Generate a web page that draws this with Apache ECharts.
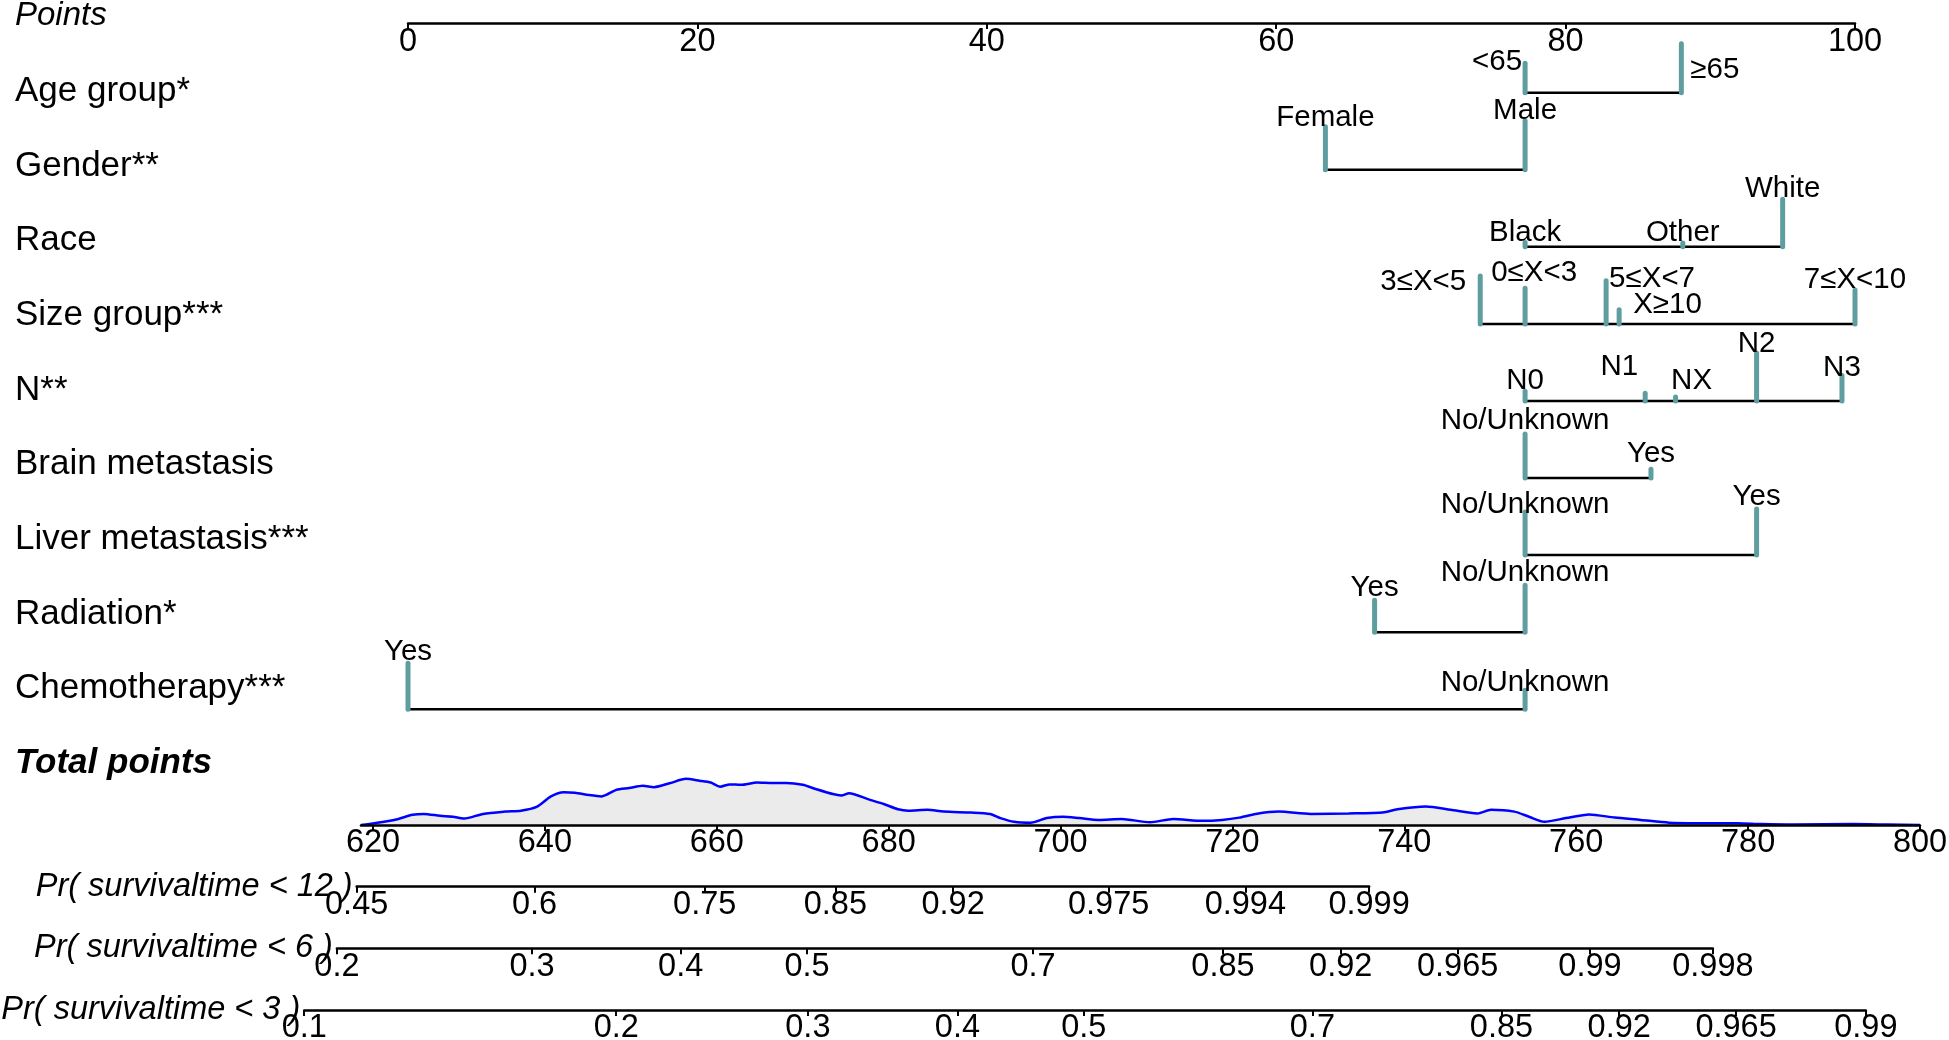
<!DOCTYPE html>
<html>
<head>
<meta charset="utf-8">
<script src="https://cdn.jsdelivr.net/npm/echarts@6/dist/echarts.min.js"></script>
<style>
html,body{margin:0;padding:0;background:#ffffff;}
#chart{width:1949px;height:1040px;}
</style>
</head>
<body>
<div id="chart"></div>
<script>
// ---------------- DATA ----------------
const rowNames = ['Age group*', 'Gender**', 'Race', 'Size group***', 'N**',
  'Brain metastasis', 'Liver metastasis***', 'Radiation*', 'Chemotherapy***'];

const pointsTicks = [0, 20, 40, 60, 80, 100];

const ageLevels = ['<65', '≥65'];
const agePoints = [77.2, 88.0];
const ageWeight = [0.60, 1.00];

const genderLevels = ['Female', 'Male'];
const genderPoints = [63.4, 77.2];
const genderWeight = [0.88, 1.00];

const raceLevels = ['Black', 'Other', 'White'];
const racePoints = [77.2, 88.1, 95.0];
const raceWeight = [0.09, 0.08, 0.97];

const sizeLevels = ['0≤X<3', '3≤X<5', '5≤X<7', '7≤X<10', 'X≥10'];
const sizePoints = [77.2, 74.1, 82.8, 100, 83.7];
const sizeWeight = [0.73, 0.98, 0.88, 0.69, 0.29];

const nLevels = ['N0', 'N1', 'N2', 'N3', 'NX'];
const nPoints = [77.2, 85.5, 93.2, 99.1, 87.6];
const nWeight = [0.20, 0.16, 0.98, 0.52, 0.08];

const brainLevels = ['No/Unknown', 'Yes'];
const brainPoints = [77.2, 85.9];
const brainWeight = [0.90, 0.18];

const liverLevels = ['No/Unknown', 'Yes'];
const liverPoints = [77.2, 93.2];
const liverWeight = [0.88, 0.94];

const radiationLevels = ['No/Unknown', 'Yes'];
const radiationPoints = [77.2, 66.8];
const radiationWeight = [0.96, 0.65];

const chemoLevels = ['No/Unknown', 'Yes'];
const chemoPoints = [77.2, 0];
const chemoWeight = [0.39, 0.94];

const totalTicks = [620, 640, 660, 680, 700, 720, 740, 760, 780, 800];
const totalRange = [618.6, 800];

const densityTotal = [618.6, 620.2, 622.7, 624.6, 625.9, 627.8, 629.3, 630.6, 632.8, 635.4, 637.2, 639.1,
  640.7, 642.2, 643.5, 645.1, 646.6, 648.3, 649.8, 651.4, 652.7, 654.6, 656.4, 658.0, 659.3, 660.4,
  661.5, 662.8, 664.7, 666.5, 668.1, 670.0, 671.5, 673.5, 674.5, 675.4, 677.6, 679.5, 681.1, 682.3,
  684.5, 686.4, 689.6, 691.8, 693.0, 694.6, 696.5, 698.4, 700.3, 702.2, 704.4, 707.1, 710.4, 713.1,
  716.5, 718.8, 720.8, 722.7, 725.4, 729.1, 733.5, 737.5, 739.2, 742.5, 745.4, 748.5, 750.1, 752.8,
  754.5, 756.3, 758.8, 761.5, 764.5, 767.5, 770.8, 774.2, 778.8, 781.5, 785.4, 792.2, 796.2, 800];
const densityValue = [0.00, 0.04, 0.12, 0.22, 0.24, 0.20, 0.18, 0.14, 0.24, 0.29, 0.31, 0.40,
  0.62, 0.71, 0.70, 0.65, 0.62, 0.76, 0.80, 0.85, 0.82, 0.91, 1.00, 0.96, 0.92, 0.83,
  0.88, 0.87, 0.92, 0.91, 0.91, 0.87, 0.78, 0.67, 0.64, 0.69, 0.56, 0.45, 0.34, 0.31,
  0.33, 0.29, 0.27, 0.24, 0.15, 0.07, 0.05, 0.15, 0.18, 0.15, 0.11, 0.13, 0.06, 0.13,
  0.09, 0.11, 0.16, 0.24, 0.29, 0.24, 0.25, 0.27, 0.34, 0.40, 0.33, 0.25, 0.33, 0.29,
  0.18, 0.07, 0.15, 0.23, 0.16, 0.11, 0.05, 0.04, 0.04, 0.02, 0.01, 0.02, 0.01, 0.00];

const pr12Labels = ['0.45', '0.6', '0.75', '0.85', '0.92', '0.975', '0.994', '0.999'];
const pr12Pos = [618.1, 638.8, 658.6, 673.8, 687.5, 705.6, 721.5, 735.9];

const pr6Labels = ['0.2', '0.3', '0.4', '0.5', '0.7', '0.85', '0.92', '0.965', '0.99', '0.998'];
const pr6Pos = [615.8, 638.5, 655.8, 670.5, 696.8, 718.9, 732.6, 746.2, 761.6, 775.9];

const pr3Labels = ['0.1', '0.2', '0.3', '0.4', '0.5', '0.7', '0.85', '0.92', '0.965', '0.99'];
const pr3Pos = [612.0, 648.3, 670.6, 688.0, 702.7, 729.3, 751.3, 765.0, 778.6, 793.7];

const prNames = ['Pr( survivaltime < 12 )', 'Pr( survivaltime < 6 )', 'Pr( survivaltime < 3 )'];

// ---------------- LAYOUT / STYLE ----------------
const W = 1949;
const FONT = '"Liberation Sans", Arial, Helvetica, sans-serif';
const TEAL = '#5F9EA0';
const PTS_LEFT = 408, PTS_RIGHT_X = 1855;
const ROW_Y0 = 92.7, ROW_DY = 77.07;
const LABEL_Y0 = 91.5, LABEL_DY = 74.625;
const TICK_ROWS = 49 / ROW_DY;
const TP_X620 = 373, TP_X800 = 1920;
const tpX = v => TP_X620 + (v - 620) * (TP_X800 - TP_X620) / 180;
const POINTS_Y = 23, TOTAL_Y = 825, PR_Y = [886.7, 948.3, 1010];
const TICK_FONT = 32.5, ROW_FONT = 35, LEVEL_FONT = 29.5;

const labelPlacement = {
  '0|<65': ['right', -3, -1],
  '0|≥65': ['left', 9, 26],
  '1|Female': ['center', 0, -9],
  '3|3≤X<5': ['right', -14, 6],
  '3|0≤X<3': ['center', 9, -15],
  '3|5≤X<7': ['left', 3, -2],
  '3|X≥10': ['left', 14, -5],
  '4|N1': ['right', -7, -26],
  '4|NX': ['center', 16, -16],
  '4|N2': ['center', 0, -9],
  '4|N3': ['center', 0, -8],
  '5|No/Unknown': ['center', 0, -13],
  '5|Yes': ['center', 0, -15],
  '6|No/Unknown': ['center', 0, -7],
  '6|Yes': ['center', 0, -12],
  '7|No/Unknown': ['center', 0, -12],
  '7|Yes': ['center', 0, -12],
  '8|No/Unknown': ['center', 0, -7],
  '8|Yes': ['center', 0, -11]
};

const rows = [
  [ageLevels, agePoints, ageWeight],
  [genderLevels, genderPoints, genderWeight],
  [raceLevels, racePoints, raceWeight],
  [sizeLevels, sizePoints, sizeWeight],
  [nLevels, nPoints, nWeight],
  [brainLevels, brainPoints, brainWeight],
  [liverLevels, liverPoints, liverWeight],
  [radiationLevels, radiationPoints, radiationWeight],
  [chemoLevels, chemoPoints, chemoWeight]
];

const levelItems = [];
rows.forEach((r, ri) => {
  r[0].forEach((lab, li) => {
    const pl = labelPlacement[ri + '|' + lab] || ['center', 0, -10];
    levelItems.push({ label: lab, value: [r[1][li], ri, r[2][li]], align: pl[0], dx: pl[1], dy: pl[2] });
  });
});
const rowSpans = rows.map((r, ri) => [Math.min(...r[1]), Math.max(...r[1]), ri]);

// ---------------- CHART ----------------
const chart = echarts.init(document.getElementById('chart'));

const axisLineStyle = { show: true, lineStyle: { color: '#000', width: 2.5 } };
const tickStyle = { show: true, length: 6, lineStyle: { color: '#000', width: 2 } };
const labelStyle = { color: '#000', fontSize: TICK_FONT, fontFamily: FONT, margin: 2 };
const noSplit = { show: false };

function prGrid(pos, i) {
  return { left: tpX(pos[0]), right: W - tpX(pos[pos.length - 1]), top: PR_Y[i] - 2, height: 2, outerBoundsMode: 'none' };
}
function prAxis(pos, labels, i) {
  return {
    type: 'value', gridIndex: 3 + i, min: pos[0], max: pos[pos.length - 1],
    axisLine: axisLineStyle,
    axisTick: Object.assign({ customValues: pos }, tickStyle),
    axisLabel: Object.assign({}, labelStyle, {
      customValues: pos, margin: 2,
      formatter: v => {
        let best = 0, bd = Infinity;
        pos.forEach((p, k) => { const d = Math.abs(p - v); if (d < bd) { bd = d; best = k; } });
        return labels[best];
      }
    }),
    splitLine: noSplit,
    name: prNames[i], nameLocation: 'start', nameGap: 4, nameMoveOverlap: false,
    nameTextStyle: { fontStyle: 'italic', fontSize: 32.5, color: '#000', fontFamily: FONT }
  };
}

const option = {
  animation: false,
  backgroundColor: '#ffffff',
  textStyle: { fontFamily: FONT },
  grid: [
    { left: PTS_LEFT, right: W - PTS_RIGHT_X, top: POINTS_Y - 3, height: 3, outerBoundsMode: 'none' },
    { left: PTS_LEFT, right: W - PTS_RIGHT_X, top: ROW_Y0 - ROW_DY, height: 10 * ROW_DY, outerBoundsMode: 'none' },
    { left: tpX(totalRange[0]), right: W - tpX(totalRange[1]), top: TOTAL_Y - 60, height: 60, outerBoundsMode: 'none' },
    prGrid(pr12Pos, 0), prGrid(pr6Pos, 1), prGrid(pr3Pos, 2)
  ],
  xAxis: [
    { type: 'value', gridIndex: 0, min: 0, max: 100, interval: 20,
      axisLine: axisLineStyle, axisTick: tickStyle, axisLabel: Object.assign({}, labelStyle, { margin: 3 }), splitLine: noSplit },
    { type: 'value', gridIndex: 1, min: 0, max: 100, show: false },
    { type: 'value', gridIndex: 2, min: totalRange[0], max: totalRange[1], z: 5,
      axisLine: axisLineStyle,
      axisTick: Object.assign({ customValues: totalTicks }, tickStyle),
      axisLabel: Object.assign({}, labelStyle, { customValues: totalTicks, margin: 2 }),
      splitLine: noSplit },
    prAxis(pr12Pos, pr12Labels, 0),
    prAxis(pr6Pos, pr6Labels, 1),
    prAxis(pr3Pos, pr3Labels, 2)
  ],
  yAxis: [
    { type: 'value', gridIndex: 0, show: false },
    { type: 'value', gridIndex: 1, min: -1, max: 9, inverse: true, show: false },
    { type: 'value', gridIndex: 1, inverse: true, position: 'left',
      min: -(LABEL_Y0 - (ROW_Y0 - ROW_DY)) / LABEL_DY,
      max: -(LABEL_Y0 - (ROW_Y0 - ROW_DY)) / LABEL_DY + 10 * ROW_DY / LABEL_DY,
      axisLine: { show: false }, axisTick: { show: false }, splitLine: noSplit,
      axisLabel: { customValues: rowNames.map((n, i) => i), formatter: v => rowNames[Math.round(v)],
        align: 'left', margin: PTS_LEFT - 15, color: '#000', fontSize: ROW_FONT, fontFamily: FONT } },
    { type: 'value', gridIndex: 2, min: 0, max: 1.3, show: false },
    { type: 'value', gridIndex: 3, show: false },
    { type: 'value', gridIndex: 4, show: false },
    { type: 'value', gridIndex: 5, show: false }
  ],
  graphic: [
    { type: 'text', x: 15, y: 16, style: { text: 'Points', font: 'italic 33px ' + FONT, fill: '#000', verticalAlign: 'middle' } },
    { type: 'text', x: 15, y: 763.5, style: { text: 'Total points', font: 'italic bold 35px ' + FONT, fill: '#000', verticalAlign: 'middle' } }
  ],
  series: [
    {
      type: 'custom', xAxisIndex: 1, yAxisIndex: 1, z: 2, silent: true,
      data: rowSpans,
      renderItem: (params, api) => {
        const a = api.coord([api.value(0), api.value(2)]);
        const b = api.coord([api.value(1), api.value(2)]);
        return { type: 'line', shape: { x1: a[0], y1: a[1], x2: b[0], y2: b[1] },
          style: { stroke: '#000', lineWidth: 2.5 } };
      }
    },
    {
      type: 'custom', xAxisIndex: 1, yAxisIndex: 1, z: 3, silent: true,
      data: levelItems.map(it => it.value),
      renderItem: (params, api) => {
        const it = levelItems[params.dataIndex];
        const base = api.coord([api.value(0), api.value(1)]);
        const top = api.coord([api.value(0), api.value(1) - api.value(2) * TICK_ROWS]);
        return { type: 'group', children: [
          { type: 'line', shape: { x1: base[0], y1: base[1], x2: top[0], y2: top[1] },
            style: { stroke: TEAL, lineWidth: 5, lineCap: 'round' } },
          { type: 'text', style: { text: it.label, x: top[0] + it.dx, y: top[1] + it.dy,
            align: it.align, verticalAlign: 'middle', font: LEVEL_FONT + 'px ' + FONT, fill: '#000' } }
        ] };
      }
    },
    {
      type: 'line', xAxisIndex: 2, yAxisIndex: 3, z: 2, silent: true,
      data: densityTotal.map((t, i) => [t, densityValue[i]]),
      symbol: 'none', smooth: 0.25,
      lineStyle: { color: '#0000FF', width: 2.5 },
      areaStyle: { color: '#EBEBEB', opacity: 1 }
    }
  ]
};
chart.setOption(option);
</script>
</body>
</html>
